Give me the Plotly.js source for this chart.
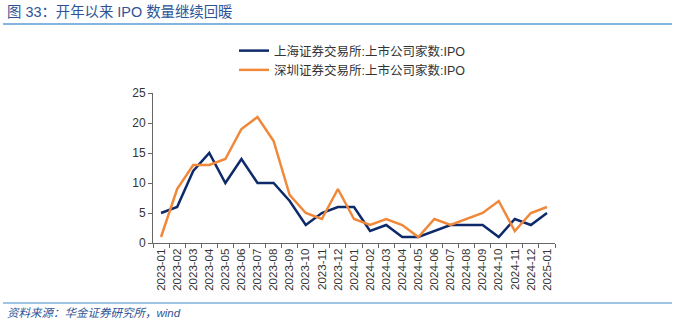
<!DOCTYPE html>
<html>
<head>
<meta charset="utf-8">
<script src="https://cdn.plot.ly/plotly-3.0.1.min.js"></script>
<style>html,body{margin:0;padding:0;background:#fff;}#chart{width:675px;height:321px;}</style>
</head>
<body>
<div id="chart"></div>
<script>
const months = ["2023-01","2023-02","2023-03","2023-04","2023-05","2023-06","2023-07","2023-08","2023-09","2023-10","2023-11","2023-12","2024-01","2024-02","2024-03","2024-04","2024-05","2024-06","2024-07","2024-08","2024-09","2024-10","2024-11","2024-12","2025-01"];
const shanghai = [5,6,12,15,10,14,10,10,7,3,5,6,6,2,3,1,1,2,3,3,3,1,4,3,5];
const shenzhen = [1,9,13,13,14,19,21,17,8,5,4,9,4,3,4,3,1,4,3,4,5,7,2,5,6];
const seriesNames = ["上海证券交易所:上市公司家数:IPO","深圳证券交易所:上市公司家数:IPO"];
const yTicks = [0,5,10,15,20,25];
const titleText = "图 33：开年以来 IPO 数量继续回暖";
const sourceText = "资料来源：华金证券研究所，wind";

const FONT = "Liberation Sans, Arial, Noto Sans CJK SC, sans-serif";
const W = 675, H = 321, L = 153, R = 120, T = 93, B = 78;
const PW = W - L - R, PH = H - T - B;
const px = v => (v - L) / PW;          // pixel x -> paper x
const py = v => (H - B - v) / PH;      // pixel y -> paper y

const traces = [
  {x: months, y: shanghai, name: seriesNames[0], type: "scatter", mode: "lines",
   line: {color: "#0E2A6A", width: 2.5}},
  {x: months, y: shenzhen, name: seriesNames[1], type: "scatter", mode: "lines",
   line: {color: "#F0883A", width: 2.5}}
];
const layout = {
  width: W, height: H,
  margin: {l: L, r: R, t: T, b: B},
  paper_bgcolor: "#fff", plot_bgcolor: "#fff",
  font: {family: FONT, size: 12, color: "#333"},
  showlegend: true,
  legend: {x: px(234), y: py(36), xanchor: "left", yanchor: "top",
           font: {family: FONT, size: 12.5, color: "#333"}, tracegroupgap: 0, itemwidth: 30,
           bgcolor: "rgba(0,0,0,0)"},
  xaxis: {type: "category", range: [-0.5, months.length - 0.5], tickangle: -90, ticks: "outside",
          tickson: "boundaries", ticklen: 4,
          tickcolor: "#666", showline: true, linecolor: "#666", linewidth: 1, showgrid: false,
          tickfont: {family: FONT, size: 11.5, color: "#333"}, fixedrange: true, automargin: false},
  yaxis: {range: [0, 25], tickvals: yTicks, ticks: "outside", ticklen: 4, tickcolor: "#666",
          showline: true, linecolor: "#666", linewidth: 1, showgrid: false, zeroline: false,
          tickfont: {family: FONT, size: 12, color: "#333"}, automargin: false},
  annotations: [
    {text: titleText, xref: "paper", yref: "paper", x: px(5), y: py(2), showarrow: false,
     xanchor: "left", yanchor: "top", font: {family: FONT, size: 14.4, color: "#2E5496"}},
    {text: "<i>" + sourceText + "</i>", xref: "paper", yref: "paper", x: px(5), y: py(321),
     xanchor: "left", yanchor: "bottom", showarrow: false,
     font: {family: FONT, size: 11.5, color: "#2E5496"}}
  ],
  shapes: [
    {type: "line", xref: "paper", yref: "paper", x0: px(3), x1: px(672),
     y0: py(24), y1: py(24), line: {color: "#5B9BD5", width: 1.5}},
    {type: "line", xref: "paper", yref: "paper", x0: px(3), x1: px(672),
     y0: py(303), y1: py(303), line: {color: "#7FB0DC", width: 1.5}}
  ]
};
Plotly.newPlot("chart", traces, layout, {displayModeBar: false, staticPlot: true});
</script>
</body>
</html>
